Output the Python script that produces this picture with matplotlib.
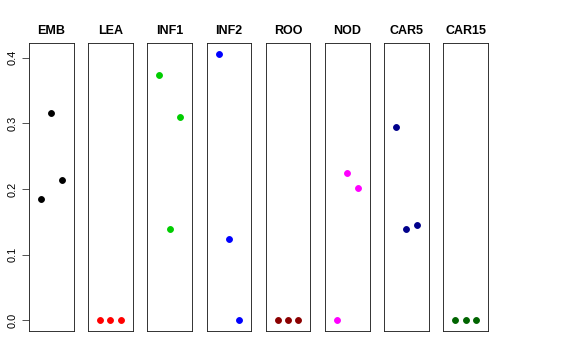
import matplotlib
matplotlib.use("Agg")
import matplotlib.pyplot as plt

categories = ["EMB", "LEA", "INF1", "INF2", "ROO", "NOD", "CAR5", "CAR15"]
values = [
    [0.1845, 0.316, 0.214],
    [0.0, 0.0, 0.0],
    [0.373, 0.139, 0.310],
    [0.4055, 0.124, 0.0],
    [0.0, 0.0, 0.0],
    [0.0, 0.2236, 0.2017],
    [0.2945, 0.139, 0.1445],
]
values.append([0.0, 0.0, 0.0])
colors = ["#000000", "#FF0000", "#00CD00", "#0000FF", "#8B0000", "#FF00FF", "#00008B", "#006400"]
yticks = [0.0, 0.1, 0.2, 0.3, 0.4]
ytick_labels = ["0.0", "0.1", "0.2", "0.3", "0.4"]

W, H = 576, 360
fig = plt.figure(figsize=(W / 72, H / 72), dpi=72)
plt.rcParams['font.family'] = ['Liberation Sans', 'DejaVu Sans']

left0 = 29.0
step = 59.2
pw = 44.5
top_px = 43.3
bot_px = 331.0

ymax = max(max(v) for v in values)
ext = 0.04 * ymax
for i, (cat, vals, col) in enumerate(zip(categories, values, colors)):
    l = left0 + i * step
    ax = fig.add_axes([l / W, 1 - bot_px / H, pw / W, (bot_px - top_px) / H])
    xs = [1, 2, 3]
    ax.plot(xs, vals, linestyle="none", marker="o", ms=5.8, color=col, mec=col)
    ax.set_xlim(-0.16, 4.16)
    ax.set_ylim(-ext, ymax + ext)
    ax.set_xticks([])
    for s in ax.spines.values():
        s.set_linewidth(0.9)
        s.set_color("#222222")
    if i == 0:
        ax.set_yticks(yticks)
        ax.set_yticklabels(ytick_labels, rotation=90, va="center", fontsize=11)
        ax.tick_params(axis="y", length=7, width=0.9, pad=4, color="#444444")
    else:
        ax.set_yticks([])
    ax.set_title(cat, fontsize=12.5, fontweight="bold", pad=9)

fig.savefig("out.png", dpi=72)
